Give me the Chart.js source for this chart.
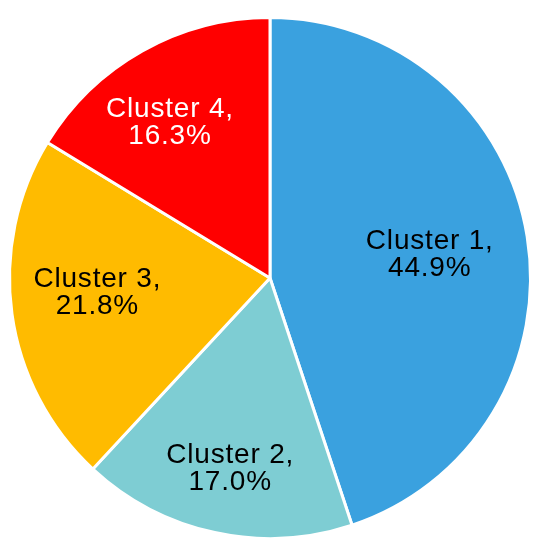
<!DOCTYPE html>
<html>
<head>
	<title>Cluster shares</title>
	<script src="https://cdn.jsdelivr.net/npm/chart.js@4.4.1/dist/chart.umd.min.js"></script>
<style>
	body { margin: 0; background: #fff; }
	#wrap { width: 550px; height: 550px; }
</style>
</head>
<body>
<div id="wrap">
	<canvas id="pie"></canvas>
</div>

<script>
var clusters = ['Cluster 1', 'Cluster 2', 'Cluster 3', 'Cluster 4'];
var shares = [44.9, 17.0, 21.8, 16.3];
var sliceColors = ['#3aa1df', '#7ecdd3', '#ffbb00', '#ff0000'];
var labelColors = ['#000', '#000', '#000', '#fff'];
// label placement: fraction of radius, and a small angle nudge in degrees
var labelRadius = [0.62, 0.745, 0.665, 0.71];
var labelNudge = [0.7, -0.4, 3.3, -3.4];

// writes "Cluster n,\nxx.x%" into each slice
var sliceLabels = {
	id : 'sliceLabels',
	afterDatasetsDraw : function(chart) {
		var ctx = chart.ctx;
		var meta = chart.getDatasetMeta(0);
		ctx.save();
		ctx.font = '28px "Liberation Sans", Arial, sans-serif';
		ctx.letterSpacing = '0.8px';
		ctx.textAlign = 'center';
		ctx.textBaseline = 'middle';
		meta.data.forEach(function(arc, i) {
			var mid = (arc.startAngle + arc.endAngle) / 2 + labelNudge[i] * Math.PI / 180;
			var r = arc.outerRadius * labelRadius[i];
			var x = arc.x + Math.cos(mid) * r;
			var y = arc.y + Math.sin(mid) * r;
			ctx.fillStyle = labelColors[i];
			ctx.fillText(clusters[i] + ',', x, y - 13);
			ctx.fillText(shares[i].toFixed(1) + '%', x, y + 14);
		});
		ctx.restore();
	}
};

var chart = new Chart(document.getElementById('pie'), {
	type : 'pie',
	data : {
		labels : clusters,
		datasets : [{
			data : shares,
			backgroundColor : sliceColors,
			borderColor : '#fff',
			borderWidth : 3
		}]
	},
	options : {
		responsive : true,
		maintainAspectRatio : false,
		animation : false,
		layout : {
			padding : { left : 8, right : 18, top : 16, bottom : 10 }
		},
		plugins : {
			legend : { display : false },
			tooltip : { enabled : false }
		}
	},
	plugins : [sliceLabels]
});
</script>
</body>
</html>
